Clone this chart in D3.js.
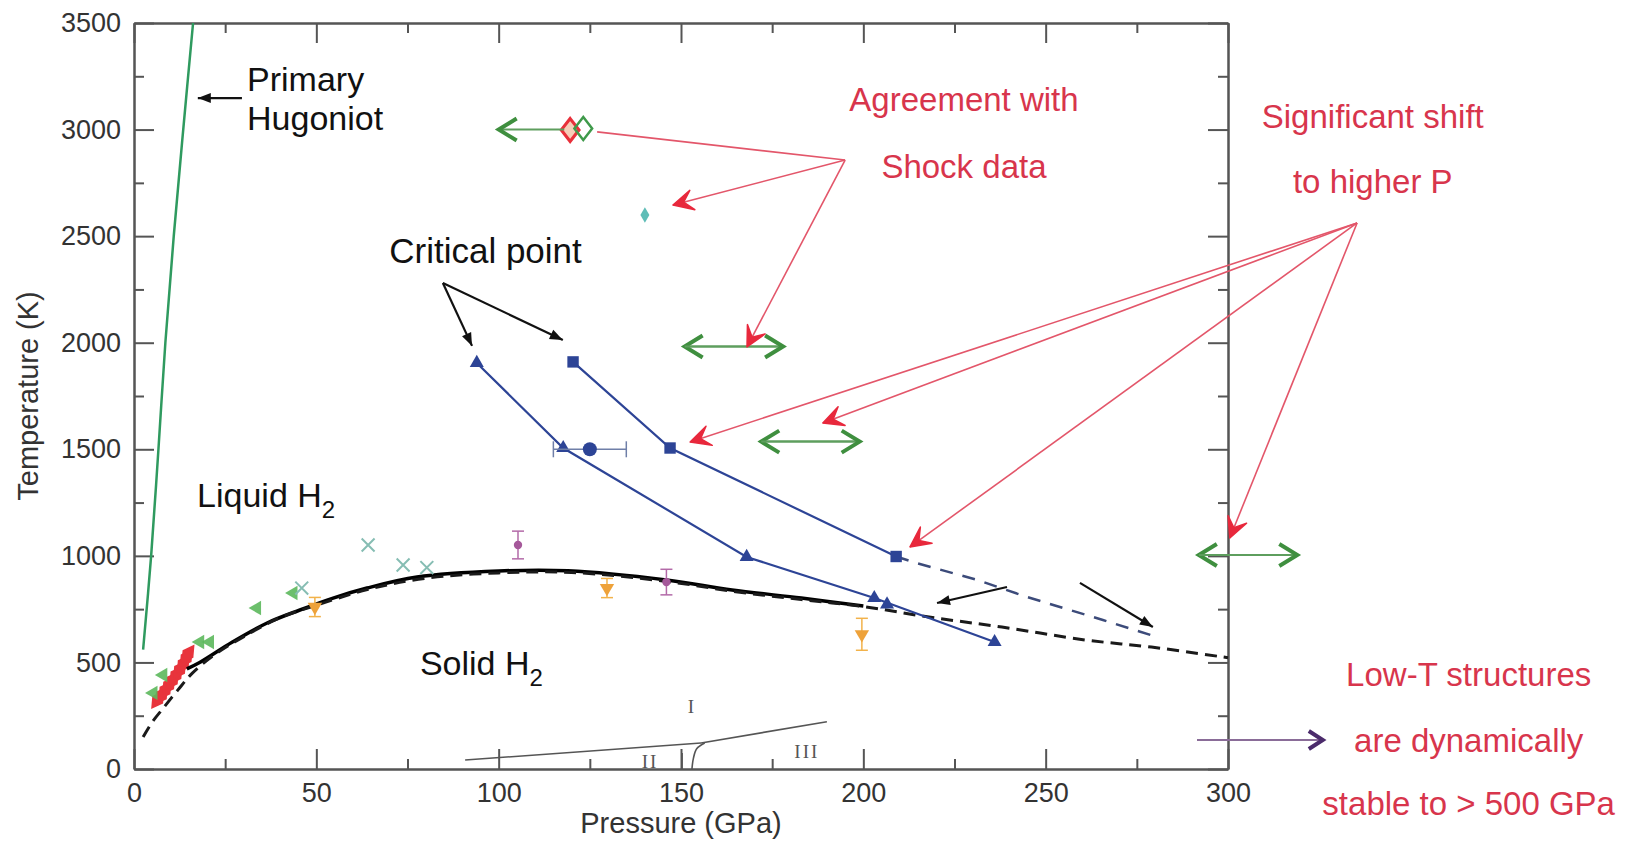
<!DOCTYPE html>
<html>
<head>
<meta charset="utf-8">
<script src="https://cdn.jsdelivr.net/npm/d3@7"></script>
<style>
body{margin:0;background:#fff}
text{font-family:"Liberation Sans",Arial,Helvetica,sans-serif}
</style>
</head>
<body>
<svg id="chart"></svg>
<script>
// axes
var xTickValues = [0, 50, 100, 150, 200, 250, 300]
var yTickValues = [0, 500, 1000, 1500, 2000, 2500, 3000, 3500]
var xMinorTicks = [25, 75, 125, 175, 225, 275]
var yMinorTicks = [250, 750, 1250, 1750, 2250, 2750, 3250]

// curves [pressure GPa, temperature K]
var hugoniot = [[2.5, 560], [4.7, 1000], [6.7, 1500], [8.6, 2000], [10.9, 2500], [13.5, 3000], [16.2, 3500]]
var meltSolid = [[14.5, 470], [18, 500], [27, 596], [36.5, 685], [45.5, 746], [54.6, 802], [63.9, 849], [77.6, 901], [100, 929], [119, 930], [146, 887], [164, 840], [183, 802], [200, 765]]
var meltDashed = [[2.5, 150], [5, 220], [8, 285], [12, 370], [16, 450], [22, 535], [30, 620], [40, 710], [50, 768], [64, 842], [80, 895], [100, 920], [120, 922], [146, 880], [165, 832], [183, 795], [200, 762], [218, 713], [238, 666], [261, 605], [279, 572], [300, 522]]
var triangleLine = [[94, 1905], [117.7, 1506], [168, 995], [203, 802], [236, 596]]
var squareLine = [[120.4, 1910], [147, 1506], [209, 997]]
var squareDashed = [[209, 997], [214.7, 966], [231.2, 887], [244.9, 807], [265.7, 699], [281.3, 615]]
var phaseLow = [[90.8, 42], [155.5, 122]]
var phaseHigh = [[155.5, 122], [190, 222]]
var phaseCurve = [[153, 0], [153.4, 50], [154.3, 95], [156.5, 122]]
var phaseBar = [[150.3, 0], [150.3, 75]]

// scattered points [P, T, error]
var circlePoints = [[125, 1500, 10]]
var extraBlue = [[206.5, 772]]
var orangePoints = [[49.6, 760, 45], [129.7, 849, 45], [199.6, 632, 75]]
var magentaPoints = [[105.3, 1051, 65], [146, 877, 60]]
var greenTriangles = [[5.3, 357], [8, 441], [18.1, 596], [20.8, 596], [33.7, 755], [43.7, 826]]
var redDiamonds = [[6.5, 325], [7.5, 345], [8.5, 368], [9.5, 392], [10.5, 415], [11.5, 440], [12.5, 465], [13.5, 492], [14.3, 520], [14.8, 540]]
var tealCrosses = [[46, 849], [64.2, 1051], [73.8, 957], [80.3, 945]]
var cyanDiamond = [[140.1, 2599]]
var shockRed = [[119.6, 2998]]
var shockGreen = [[123.2, 3005]]

// annotation geometry in data units
var greenArrows = [[151, 178, 1982, "both"], [172, 199, 1536, "both"], [292, 319, 1004, "both"], [100, 118, 3000, "left"]]
var shockFrom = [195, 2857]
var shockTo = [[127, 2989], [147.8, 2646], [168.1, 1980]]
var shockHeads = [false, true, true]
var shiftFrom = [335.4, 2562]
var shiftTo = [[152.5, 1534], [188.9, 1623], [212.8, 1042], [300.5, 1084]]
var criticalFrom = [84.7, 2280]
var criticalTo = [[92.7, 1985], [117.6, 2013]]
var blackArrows = [[[29.6, 3148], [17.5, 3148]], [[239.4, 854], [220.2, 779]], [[259.4, 873], [279.4, 666]]]
var lowTArrow = [[291.5, 136], [326, 136]]

var blackLabels = [["Primary", 31, 3180, ""], ["Hugoniot", 31, 3000, ""], ["Liquid H", 17.3, 1229, "2"], ["Solid H", 78.4, 441, "2"]]
var redLabels = [["Agreement with", 227.6, 3087], ["Shock data", 227.6, 2773], ["Significant shift", 339.7, 3007], ["to higher P", 339.7, 2702], ["Low-T structures", 366, 389], ["are dynamically", 366, 80], ["stable to > 500 GPa", 366, -216]]
var phaseLabels = [["I", 153, 262], ["II", 141.5, 6], ["III", 184.5, 52]]

var dimensions = {
    width: 1642,
    height: 842,
    left: 134,
    right: 1228,
    top: 23,
    bottom: 769
}

var svg = d3.select("#chart")
            .attr("width", dimensions.width)
            .attr("height", dimensions.height)

var xScale = d3.scaleLinear()
               .domain([0, 300])
               .range([dimensions.left, dimensions.right])

var yScale = d3.scaleLinear()
               .domain([0, 3500])
               .range([dimensions.bottom, dimensions.top])

var line = d3.line()
             .x(d => xScale(d[0]))
             .y(d => yScale(d[1]))

var smooth = d3.line()
               .x(d => xScale(d[0]))
               .y(d => yScale(d[1]))
               .curve(d3.curveCatmullRom)

var axisColor = "#555"

function styleAxis(g){
    g.attr("font-size", 27)
    g.selectAll("path.domain").attr("stroke", axisColor).attr("stroke-width", 2)
    g.selectAll(".tick line").attr("stroke", axisColor).attr("stroke-width", 2)
    g.selectAll(".tick text").attr("fill", "#333")
}

svg.append("g")
   .attr("transform", "translate(0," + dimensions.bottom + ")")
   .call(d3.axisBottom(xScale).tickValues(xTickValues).tickFormat(d3.format("d")).tickSizeInner(-20).tickSizeOuter(0).tickPadding(14))
   .call(styleAxis)
svg.append("g")
   .attr("transform", "translate(0," + dimensions.bottom + ")")
   .call(d3.axisBottom(xScale).tickValues(xMinorTicks).tickSizeInner(-10).tickSizeOuter(0).tickFormat(""))
   .call(styleAxis)
svg.append("g")
   .attr("transform", "translate(0," + dimensions.top + ")")
   .call(d3.axisTop(xScale).tickValues(xTickValues).tickSizeInner(-20).tickSizeOuter(0).tickFormat(""))
   .call(styleAxis)
svg.append("g")
   .attr("transform", "translate(0," + dimensions.top + ")")
   .call(d3.axisTop(xScale).tickValues(xMinorTicks).tickSizeInner(-10).tickSizeOuter(0).tickFormat(""))
   .call(styleAxis)
svg.append("g")
   .attr("transform", "translate(" + dimensions.left + ",0)")
   .call(d3.axisLeft(yScale).tickValues(yTickValues).tickFormat(d3.format("d")).tickSizeInner(-20).tickSizeOuter(0).tickPadding(13))
   .call(styleAxis)
svg.append("g")
   .attr("transform", "translate(" + dimensions.left + ",0)")
   .call(d3.axisLeft(yScale).tickValues(yMinorTicks).tickSizeInner(-10).tickSizeOuter(0).tickFormat(""))
   .call(styleAxis)
svg.append("g")
   .attr("transform", "translate(" + dimensions.right + ",0)")
   .call(d3.axisRight(yScale).tickValues(yTickValues).tickSizeInner(-20).tickSizeOuter(0).tickFormat(""))
   .call(styleAxis)
svg.append("g")
   .attr("transform", "translate(" + dimensions.right + ",0)")
   .call(d3.axisRight(yScale).tickValues(yMinorTicks).tickSizeInner(-10).tickSizeOuter(0).tickFormat(""))
   .call(styleAxis)

svg.append("text")
   .attr("x", xScale(150))
   .attr("y", dimensions.bottom + 64)
   .attr("text-anchor", "middle")
   .attr("font-size", 29)
   .attr("fill", "#333")
   .text("Pressure (GPa)")

svg.append("text")
   .attr("transform", "translate(38," + yScale(1750) + ") rotate(-90)")
   .attr("text-anchor", "middle")
   .attr("font-size", 29)
   .attr("fill", "#333")
   .text("Temperature (K)")

// low-T phase boundaries
var phase = svg.append("g")
               .attr("fill", "none")
               .attr("stroke", "#555")
               .attr("stroke-width", 1.6)
phase.append("path").attr("d", line(phaseLow))
phase.append("path").attr("d", line(phaseHigh))
phase.append("path").attr("d", smooth(phaseCurve))
phase.append("path").attr("d", line(phaseBar))
svg.append("g")
   .selectAll("text")
   .data(phaseLabels)
   .enter()
   .append("text")
   .attr("x", d => xScale(d[1]))
   .attr("y", d => yScale(d[2]))
   .attr("text-anchor", "middle")
   .attr("font-size", 19)
   .attr("letter-spacing", 2)
   .attr("fill", "#555")
   .style("font-family", "'Liberation Serif', 'DejaVu Serif', serif")
   .text(d => d[0])

// primary hugoniot
svg.append("path")
   .attr("d", smooth(hugoniot))
   .attr("fill", "none")
   .attr("stroke", "#2f9a5f")
   .attr("stroke-width", 2.5)

// red band of low-P points
svg.append("g")
   .selectAll("path")
   .data(redDiamonds)
   .enter()
   .append("path")
   .attr("transform", d => "translate(" + xScale(d[0]) + "," + yScale(d[1]) + ") rotate(35)")
   .attr("d", d3.symbol().type(d3.symbolDiamond).size(150))
   .attr("fill", "#e8343c")

// melting curve
svg.append("path")
   .attr("d", smooth(meltSolid))
   .attr("fill", "none")
   .attr("stroke", "#000")
   .attr("stroke-width", 3.5)
svg.append("path")
   .attr("d", smooth(meltDashed))
   .attr("fill", "none")
   .attr("stroke", "#1a1a1a")
   .attr("stroke-width", 3)
   .attr("stroke-dasharray", "12,7")

svg.append("g")
   .selectAll("path")
   .data(greenTriangles)
   .enter()
   .append("path")
   .attr("transform", d => "translate(" + xScale(d[0]) + "," + yScale(d[1]) + ") rotate(-90)")
   .attr("d", d3.symbol().type(d3.symbolTriangle).size(90))
   .attr("fill", "#5cb85c")
   .attr("opacity", 0.9)

svg.append("g")
   .selectAll("path")
   .data(tealCrosses)
   .enter()
   .append("path")
   .attr("transform", d => "translate(" + xScale(d[0]) + "," + yScale(d[1]) + ")")
   .attr("d", d3.symbol().type(d3.symbolTimes).size(110))
   .attr("fill", "none")
   .attr("stroke", "#86bdb3")
   .attr("stroke-width", 2)

function errorBars(data, color){
    var g = svg.append("g").attr("stroke", color).attr("stroke-width", 1.5)
    g.selectAll("line.bar")
     .data(data)
     .enter()
     .append("line")
     .attr("x1", d => xScale(d[0]))
     .attr("x2", d => xScale(d[0]))
     .attr("y1", d => yScale(d[1] - d[2]))
     .attr("y2", d => yScale(d[1] + d[2]))
    g.selectAll("line.top")
     .data(data)
     .enter()
     .append("line")
     .attr("x1", d => xScale(d[0]) - 6)
     .attr("x2", d => xScale(d[0]) + 6)
     .attr("y1", d => yScale(d[1] + d[2]))
     .attr("y2", d => yScale(d[1] + d[2]))
    g.selectAll("line.bottom")
     .data(data)
     .enter()
     .append("line")
     .attr("x1", d => xScale(d[0]) - 6)
     .attr("x2", d => xScale(d[0]) + 6)
     .attr("y1", d => yScale(d[1] - d[2]))
     .attr("y2", d => yScale(d[1] - d[2]))
}

errorBars(orangePoints, "#f2b24a")
svg.append("g")
   .selectAll("path")
   .data(orangePoints)
   .enter()
   .append("path")
   .attr("transform", d => "translate(" + xScale(d[0]) + "," + yScale(d[1]) + ") rotate(180)")
   .attr("d", d3.symbol().type(d3.symbolTriangle).size(90))
   .attr("fill", "#eea23a")

errorBars(magentaPoints, "#b36aa8")
svg.append("g")
   .selectAll("path")
   .data(magentaPoints)
   .enter()
   .append("path")
   .attr("transform", d => "translate(" + xScale(d[0]) + "," + yScale(d[1]) + ")")
   .attr("d", d3.symbol().type(d3.symbolCircle).size(55))
   .attr("fill", "#a5589a")

svg.append("g")
   .selectAll("path")
   .data(cyanDiamond)
   .enter()
   .append("path")
   .attr("transform", d => "translate(" + xScale(d[0]) + "," + yScale(d[1]) + ")")
   .attr("d", d3.symbol().type(d3.symbolDiamond).size(70))
   .attr("fill", "#5fbdb7")

// blue critical lines
var blue = "#2d4496"
svg.append("path")
   .attr("d", line(squareDashed))
   .attr("fill", "none")
   .attr("stroke", "#3c4b7a")
   .attr("stroke-width", 2.5)
   .attr("stroke-dasharray", "13,10")
svg.append("path")
   .attr("d", line(triangleLine))
   .attr("fill", "none")
   .attr("stroke", blue)
   .attr("stroke-width", 2.2)
svg.append("path")
   .attr("d", line(squareLine))
   .attr("fill", "none")
   .attr("stroke", blue)
   .attr("stroke-width", 2.2)

svg.append("g")
   .selectAll("path")
   .data(triangleLine.concat(extraBlue))
   .enter()
   .append("path")
   .attr("transform", d => "translate(" + xScale(d[0]) + "," + yScale(d[1]) + ")")
   .attr("d", d3.symbol().type(d3.symbolTriangle).size(85))
   .attr("fill", blue)
svg.append("g")
   .selectAll("path")
   .data(squareLine)
   .enter()
   .append("path")
   .attr("transform", d => "translate(" + xScale(d[0]) + "," + yScale(d[1]) + ")")
   .attr("d", d3.symbol().type(d3.symbolSquare).size(130))
   .attr("fill", blue)

var xerr = svg.append("g").attr("stroke", "#6f7fa8").attr("stroke-width", 1.5)
xerr.selectAll("line.bar")
    .data(circlePoints)
    .enter()
    .append("line")
    .attr("x1", d => xScale(d[0] - d[2]))
    .attr("x2", d => xScale(d[0] + d[2]))
    .attr("y1", d => yScale(d[1]))
    .attr("y2", d => yScale(d[1]))
xerr.selectAll("line.left")
    .data(circlePoints)
    .enter()
    .append("line")
    .attr("x1", d => xScale(d[0] - d[2]))
    .attr("x2", d => xScale(d[0] - d[2]))
    .attr("y1", d => yScale(d[1]) - 8)
    .attr("y2", d => yScale(d[1]) + 8)
xerr.selectAll("line.right")
    .data(circlePoints)
    .enter()
    .append("line")
    .attr("x1", d => xScale(d[0] + d[2]))
    .attr("x2", d => xScale(d[0] + d[2]))
    .attr("y1", d => yScale(d[1]) - 8)
    .attr("y2", d => yScale(d[1]) + 8)
svg.append("g")
   .selectAll("circle")
   .data(circlePoints)
   .enter()
   .append("circle")
   .attr("cx", d => xScale(d[0]))
   .attr("cy", d => yScale(d[1]))
   .attr("r", 7)
   .attr("fill", blue)

// shock point at 3000 K
svg.append("g")
   .selectAll("path")
   .data(shockRed)
   .enter()
   .append("path")
   .attr("transform", d => "translate(" + xScale(d[0]) + "," + yScale(d[1]) + ") scale(1.35,1)")
   .attr("d", d3.symbol().type(d3.symbolDiamond).size(150))
   .attr("fill", "#f6cdb8")
   .attr("stroke", "#e8303a")
   .attr("stroke-width", 2.5)
svg.append("g")
   .selectAll("path")
   .data(shockGreen)
   .enter()
   .append("path")
   .attr("transform", d => "translate(" + xScale(d[0]) + "," + yScale(d[1]) + ") scale(1.35,1)")
   .attr("d", d3.symbol().type(d3.symbolDiamond).size(150))
   .attr("fill", "none")
   .attr("stroke", "#3f9a4a")
   .attr("stroke-width", 2)

// arrows
function headPoints(p0, p1, len, half, notch){
    var x0 = xScale(p0[0]), y0 = yScale(p0[1])
    var x1 = xScale(p1[0]), y1 = yScale(p1[1])
    var a = Math.atan2(y1 - y0, x1 - x0)
    var c = Math.cos(a), s = Math.sin(a)
    return {
        left: [x1 - len * c - half * s, y1 - len * s + half * c],
        tip: [x1, y1],
        right: [x1 - len * c + half * s, y1 - len * s - half * c],
        notch: [x1 - notch * c, y1 - notch * s]
    }
}

function drawArrow(g, p0, p1, lineColor, lineWidth, headColor, head, kind){
    g.append("line")
     .attr("x1", xScale(p0[0]))
     .attr("y1", yScale(p0[1]))
     .attr("x2", xScale(p1[0]))
     .attr("y2", yScale(p1[1]))
     .attr("stroke", lineColor)
     .attr("stroke-width", lineWidth)
    if(!head){
        return
    }
    var h = headPoints(p0, p1, head[0], head[1], head[0] * 0.55)
    if(kind == "filled"){
        g.append("path")
         .attr("d", "M" + h.left + "L" + h.tip + "L" + h.right + "Z")
         .attr("fill", headColor)
    } else if(kind == "barbed"){
        g.append("path")
         .attr("d", "M" + h.left + "L" + h.tip + "L" + h.right + "L" + h.notch + "Z")
         .attr("fill", headColor)
         .attr("stroke", headColor)
         .attr("stroke-width", 1.5)
         .attr("stroke-linejoin", "round")
    } else {
        g.append("path")
         .attr("d", "M" + h.left + "L" + h.tip + "L" + h.right)
         .attr("fill", "none")
         .attr("stroke", headColor)
         .attr("stroke-width", head[2])
    }
}

var arrows = svg.append("g")

greenArrows.forEach(d => {
    var left = [d[0], d[2]], right = [d[1], d[2]]
    drawArrow(arrows, right, left, "#5e9e5e", 2, "#3f8f3f", [18, 11, 4], "open")
    if(d[3] == "both"){
        drawArrow(arrows, left, right, "#5e9e5e", 2, "#3f8f3f", [18, 11, 4], "open")
    }
})

shockTo.forEach((d, i) => {
    drawArrow(arrows, shockFrom, d, "#e3566a", 1.6, "#e8283c", shockHeads[i] ? [20, 10] : null, "barbed")
})
shiftTo.forEach(d => {
    drawArrow(arrows, shiftFrom, d, "#e3566a", 1.6, "#e8283c", [20, 10], "barbed")
})
criticalTo.forEach(d => {
    drawArrow(arrows, criticalFrom, d, "#111", 2.2, "#111", [13, 5], "filled")
})
blackArrows.forEach(d => {
    drawArrow(arrows, d[0], d[1], "#111", 2.2, "#111", [13, 5], "filled")
})
drawArrow(arrows, lowTArrow[0], lowTArrow[1], "#8a6c98", 2, "#4b2b6b", [14, 9, 4], "open")

// labels
var black = svg.append("g")
               .selectAll("text")
               .data(blackLabels)
               .enter()
               .append("text")
               .attr("x", d => xScale(d[1]))
               .attr("y", d => yScale(d[2]))
               .attr("font-size", 34)
               .attr("fill", "#111")
               .text(d => d[0])
black.append("tspan")
     .attr("font-size", 24)
     .attr("dy", 11)
     .text(d => d[3])

svg.append("text")
   .attr("x", xScale(122.8))
   .attr("y", yScale(2374))
   .attr("text-anchor", "end")
   .attr("font-size", 35)
   .attr("fill", "#111")
   .text("Critical point")

svg.append("g")
   .selectAll("text")
   .data(redLabels)
   .enter()
   .append("text")
   .attr("x", d => xScale(d[1]))
   .attr("y", d => yScale(d[2]))
   .attr("text-anchor", "middle")
   .attr("font-size", 33)
   .attr("fill", "#d8354c")
   .text(d => d[0])
</script>
</body>
</html>
